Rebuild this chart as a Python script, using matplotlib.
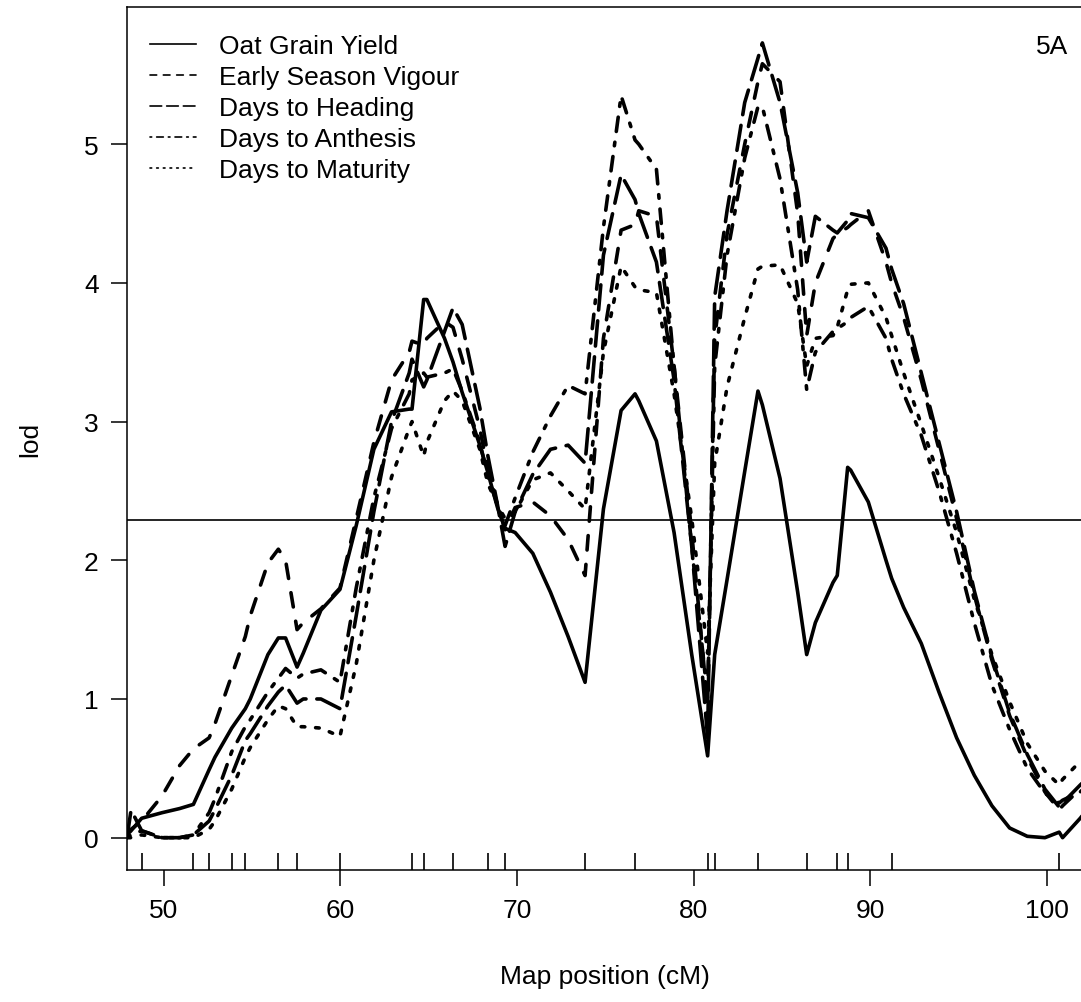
import numpy as np
import matplotlib
matplotlib.use("Agg")
import matplotlib.pyplot as plt
from matplotlib.lines import Line2D

plt.rcParams['font.family'] = ['Liberation Sans', 'DejaVu Sans']

# scan positions (cM) on chromosome 5A: markers plus 1 cM pseudomarkers
pos = [47.92, 48.15, 48.75, 49.9, 50.9, 51.68, 52.57, 52.9, 53.85, 54.62,
       54.9, 55.9, 56.49, 56.9, 57.55, 57.9, 58.9, 59.98, 60.9, 61.9,
       62.9, 63.9, 64.06, 64.72, 64.9, 65.9, 66.38, 66.9, 67.9, 68.36,
       68.9, 69.33, 69.9, 70.9, 71.9, 72.9, 73.86, 74.9, 75.9, 76.69,
       76.9, 77.9, 78.9, 79.9, 80.8, 81.2, 81.9, 82.9, 83.65, 83.9,
       84.9, 85.9, 86.41, 86.9, 87.9, 88.14, 88.73, 88.9, 89.9, 90.9,
       91.22, 91.9, 92.9, 93.9, 94.9, 95.9, 96.9, 97.9, 98.9, 99.9,
       100.71, 100.9, 101.9, 102.9]

# LOD profiles
lod_yield = [0.02, 0.05, 0.14, 0.18, 0.21, 0.24, 0.49, 0.58, 0.79, 0.93,
             1.00, 1.32, 1.44, 1.44, 1.23, 1.33, 1.64, 1.79, 2.25, 2.80,
             3.07, 3.09, 3.09, 3.88, 3.88, 3.60, 3.43, 3.21, 2.83, 2.63,
             2.38, 2.23, 2.20, 2.05, 1.77, 1.45, 1.12, 2.37, 3.08, 3.20,
             3.15, 2.86, 2.20, 1.32, 0.59, 1.32, 1.86, 2.64, 3.22, 3.12,
             2.59, 1.77, 1.32, 1.55, 1.84, 1.89, 2.67, 2.65, 2.42, 2.00,
             1.87, 1.66, 1.40, 1.05, 0.72, 0.45, 0.23, 0.07, 0.01, 0.00,
             0.04, 0.00, 0.14, 0.30]
lod_vigour = [0.03, 0.06, 0.12, 0.30, 0.52, 0.64, 0.72, 0.82, 1.17, 1.45,
              1.60, 1.98, 2.08, 2.00, 1.50, 1.55, 1.65, 1.80, 2.30, 2.85,
              3.30, 3.50, 3.58, 3.55, 3.60, 3.72, 3.68, 3.45, 2.95, 2.65,
              2.40, 2.22, 2.38, 2.42, 2.32, 2.15, 1.89, 3.60, 4.38, 4.42,
              4.52, 4.48, 3.40, 2.20, 0.95, 3.60, 4.35, 5.00, 5.45, 5.58,
              5.45, 4.50, 3.62, 4.00, 4.32, 4.35, 4.40, 4.42, 4.52, 4.15,
              4.00, 3.75, 3.30, 2.80, 2.30, 1.75, 1.28, 0.88, 0.58, 0.33,
              0.20, 0.23, 0.35, 0.50]
lod_heading = [0.00, 0.20, 0.05, 0.00, 0.00, 0.02, 0.12, 0.20, 0.45, 0.70,
               0.75, 0.95, 1.05, 1.10, 0.97, 1.00, 1.00, 0.93, 1.60, 2.35,
               3.00, 3.35, 3.45, 3.25, 3.30, 3.65, 3.82, 3.70, 3.10, 2.75,
               2.40, 2.10, 2.35, 2.62, 2.80, 2.83, 2.70, 4.20, 4.78, 4.60,
               4.50, 4.15, 3.30, 2.10, 0.72, 3.90, 4.52, 5.30, 5.62, 5.73,
               5.30, 4.65, 4.15, 4.48, 4.38, 4.36, 4.45, 4.50, 4.47, 4.25,
               4.10, 3.85, 3.35, 2.85, 2.35, 1.78, 1.30, 0.90, 0.60, 0.35,
               0.22, 0.25, 0.38, 0.50]
lod_anthesis = [0.00, 0.02, 0.05, 0.00, 0.00, 0.02, 0.18, 0.28, 0.62, 0.80,
                0.85, 1.05, 1.15, 1.22, 1.15, 1.18, 1.21, 1.12, 1.80, 2.45,
                2.95, 3.20, 3.30, 3.35, 3.32, 3.35, 3.38, 3.22, 2.85, 2.60,
                2.40, 2.25, 2.45, 2.78, 3.04, 3.26, 3.20, 4.40, 5.35, 5.03,
                5.00, 4.82, 3.40, 2.10, 1.00, 3.40, 4.20, 4.90, 5.27, 5.27,
                4.75, 3.95, 3.23, 3.50, 3.65, 3.67, 3.72, 3.75, 3.83, 3.60,
                3.45, 3.20, 2.90, 2.50, 2.05, 1.55, 1.10, 0.78, 0.50, 0.32,
                0.25, 0.27, 0.33, 0.45]
lod_maturity = [0.00, 0.00, 0.02, 0.00, 0.00, 0.00, 0.06, 0.12, 0.35, 0.58,
                0.65, 0.85, 0.95, 0.93, 0.80, 0.80, 0.79, 0.73, 1.25, 2.00,
                2.60, 2.95, 3.00, 2.75, 2.85, 3.15, 3.22, 3.15, 2.80, 2.55,
                2.40, 2.30, 2.35, 2.58, 2.63, 2.50, 2.37, 3.50, 4.12, 3.97,
                3.95, 3.93, 3.20, 2.30, 1.33, 2.70, 3.25, 3.75, 4.10, 4.12,
                4.13, 3.85, 3.40, 3.60, 3.62, 3.68, 3.95, 3.99, 4.00, 3.75,
                3.62, 3.35, 2.98, 2.60, 2.20, 1.72, 1.32, 0.98, 0.68, 0.48,
                0.38, 0.42, 0.55, 0.70]

markers = [48.75, 51.68, 52.57, 53.85, 54.62, 56.49, 57.55, 59.98, 64.06,
           64.72, 66.38, 68.36, 69.33, 73.86, 76.69, 80.80, 81.20, 83.65,
           86.41, 88.14, 88.73, 91.22, 100.71]

threshold = 2.29
traits = ["Oat Grain Yield", "Early Season Vigour", "Days to Heading",
          "Days to Anthesis", "Days to Maturity"]
lods = [lod_yield, lod_vigour, lod_heading, lod_anthesis, lod_maturity]

# R style line types (solid, dashed, longdash, dotdash, dotted)
dashes = [None, (4, 4), (7, 3), (1, 3, 4, 3), (1, 3)]

fig = plt.figure(figsize=(10.81, 10.03), dpi=100)
ax = fig.add_axes([127 / 1081, 132 / 1003, 955 / 1081, 863 / 1003])

handles = []
for lab, y, d in zip(traits, lods, dashes):
    ls = '-' if d is None else (0, d)
    ax.plot(pos, y, color='black', lw=2.6, linestyle=ls,
            dash_capstyle='round', solid_capstyle='round',
            solid_joinstyle='round', dash_joinstyle='round')
    handles.append(Line2D([], [], color='black', lw=1.2, linestyle=ls,
                          dash_capstyle='round'))

ax.axhline(threshold, color='black', lw=1.2)

# marker rug along the bottom
ax.vlines(markers, 0, 0.02, transform=ax.get_xaxis_transform(),
          color='black', lw=1.2)

ax.set_xlim(47.92, 102.0)
ax.set_ylim(-0.233, 5.989)
ax.set_xticks([50, 60, 70, 80, 90, 100])
ax.set_yticks([0, 1, 2, 3, 4, 5])
ax.tick_params(direction='out', length=11.5, width=1.1, labelsize=19,
               pad=9)
for s in ax.spines.values():
    s.set_linewidth(1.1)

ax.set_xlabel("Map position (cM)", fontsize=19, labelpad=30)
ax.set_ylabel("lod", fontsize=19, labelpad=30)

ax.text(0.969, 0.955, "5A", transform=ax.transAxes, fontsize=19,
        ha='center', va='center')

ax.legend(handles, traits, loc='upper left', bbox_to_anchor=(0.024, 0.969),
          frameon=False, fontsize=19, handlelength=1.75, handletextpad=0.85,
          labelspacing=0.27, borderaxespad=0, borderpad=0)

fig.savefig("out.png", dpi=100)
